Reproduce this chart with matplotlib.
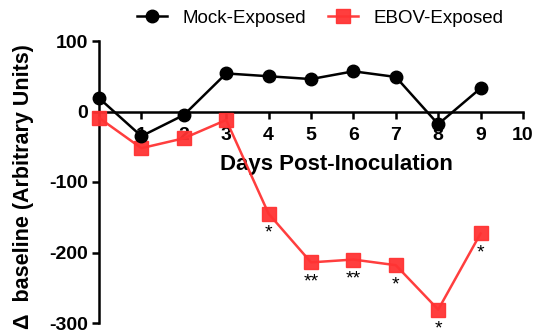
import matplotlib
matplotlib.use('Agg')
import matplotlib.pyplot as plt

plt.rcParams['font.family'] = ['Liberation Sans', 'DejaVu Sans']
plt.rcParams['axes.unicode_minus'] = False

days = [0, 1, 2, 3, 4, 5, 6, 7, 8, 9]
mock = [19, -35, -5, 54, 50, 46, 57, 49, -18, 33]
ebov = [-9, -52, -38, -12, -145, -214, -210, -218, -281, -173]
stars = ['', '', '', '', '*', '**', '**', '*', '*', '*']
xticks = [1, 2, 3, 4, 5, 6, 7, 8, 9, 10]
yticks = [-300, -200, -100, 0, 100]

fig = plt.figure(figsize=(5.34, 3.33), dpi=100)
ax = fig.add_axes([99 / 534, 1 - 323 / 333, (523 - 99) / 534, (323 - 41) / 333])

ax.plot(days, mock, color='black', marker='o', markersize=9, linewidth=1.8,
        label='Mock-Exposed', zorder=4, clip_on=False)
ax.plot(days, ebov, color='#ff3333', marker='s', markersize=10, linewidth=1.8,
        label='EBOV-Exposed', zorder=3, clip_on=False, alpha=0.95)

# significance marks under the EBOV points
for d, v, s in zip(days, ebov, stars):
    if s:
        ax.annotate(s, (d, v), xytext=(0, -14), textcoords='offset points',
                    ha='center', va='center', fontsize=14)

ax.set_xlim(0, 10)
ax.set_ylim(-300, 100)
ax.set_xticks(xticks)
ax.set_yticks(yticks)
ax.spines['bottom'].set_position(('data', 0))
ax.spines['top'].set_visible(False)
ax.spines['right'].set_visible(False)
for sp in ['left', 'bottom']:
    ax.spines[sp].set_linewidth(1.8)
ax.tick_params(width=1.8, length=5, labelsize=14, pad=3)
ax.tick_params(axis='x', pad=6)
for lab in ax.get_xticklabels() + ax.get_yticklabels():
    lab.set_fontweight('bold')

ax.set_xlabel('Days Post-Inoculation', fontsize=16, fontweight='bold')
ax.xaxis.set_label_coords(0.56, 0.60)
ax.set_ylabel('\u0394  baseline (Arbitrary Units)', fontsize=15.5, fontweight='bold')
ax.yaxis.set_label_coords(-0.153, 0.485)

fig.legend(loc='center', bbox_to_anchor=(0.6, 0.945), ncol=2, frameon=False,
           fontsize=13.5, handlelength=1.6, columnspacing=1.2, handletextpad=0.8)

fig.savefig('out.png', dpi=100)
